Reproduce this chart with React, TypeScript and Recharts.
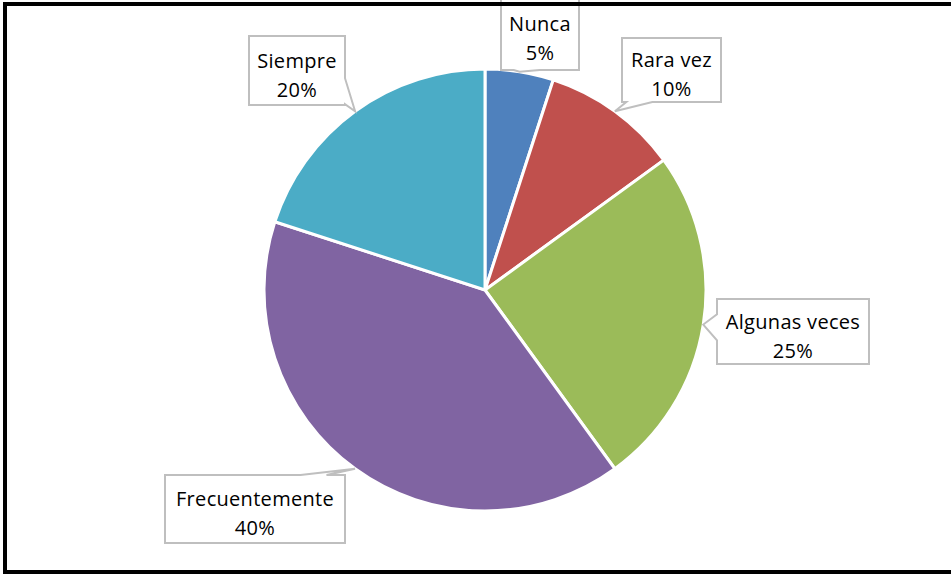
import React from 'react'
import { PieChart, Pie, Cell } from 'recharts'

// Frecuencia de respuesta
const categories = ['Nunca', 'Rara vez', 'Algunas veces', 'Frecuentemente', 'Siempre']
const values = [5, 10, 25, 40, 20]
const colors = ['#4F81BD', '#C0504D', '#9BBB59', '#8064A2', '#4BACC6']

// callout boxes, relative to the pie centre (layout only)
const calloutBoxes = [
  { dx: 16, dy: -292, w: 78, h: 72 },
  { dx: 137, dy: -252, w: 99, h: 64 },
  { dx: 232, dy: 9, w: 152, h: 65 },
  { dx: -320, dy: 185, w: 180, h: 68 },
  { dx: -236, dy: -254, w: 96, h: 69 },
]

const chartData = categories.map((name, i) => ({ name, value: values[i] }))

const RAD = Math.PI / 180

function calloutPath(x: number, y: number, w: number, h: number, tx: number, ty: number) {
  const cxB = x + w / 2
  const cyB = y + h / 2
  const nx = (tx - cxB) / (w / 2)
  const ny = (ty - cyB) / (h / 2)
  const clamp = (v: number, a: number, b: number) => Math.max(a, Math.min(b, v))
  const half = 13
  if (Math.abs(nx) <= 1 && Math.abs(ny) <= 1) {
    return `M${x},${y}H${x + w}V${y + h}H${x}Z`
  }
  if (Math.abs(ny) >= Math.abs(nx)) {
    const c = clamp(cxB + 0.65 * (clamp(tx, x, x + w) - cxB), x + half, x + w - half)
    if (ny > 0) {
      return `M${x},${y}H${x + w}V${y + h}H${c + half}L${tx},${ty}L${c - half},${y + h}H${x}Z`
    }
    return `M${x},${y}H${c - half}L${tx},${ty}L${c + half},${y}H${x + w}V${y + h}H${x}Z`
  }
  const c = clamp(cyB + 0.6 * (clamp(ty, y, y + h) - cyB), y + half, y + h - half)
  if (nx < 0) {
    return `M${x},${y}H${x + w}V${y + h}H${x}V${c + half}L${tx},${ty}L${x},${c - half}Z`
  }
  return `M${x},${y}H${x + w}V${c - half}L${tx},${ty}L${x + w},${c + half}V${y + h}H${x}Z`
}

const renderCallout = (props: any) => {
  const { cx, cy, midAngle, outerRadius, index, name, percent } = props
  const box = calloutBoxes[index]
  const tx = cx + outerRadius * Math.cos(-midAngle * RAD)
  const ty = cy + outerRadius * Math.sin(-midAngle * RAD)
  const x = cx + box.dx
  const y = cy + box.dy
  const mx = x + box.w / 2
  const my = y + box.h / 2
  return (
    <g key={`callout-${index}`}>
      <path
        d={calloutPath(x, y, box.w, box.h, tx, ty)}
        fill="#ffffff"
        stroke="#BFBFBF"
        strokeWidth={2}
      />
      <text
        x={mx}
        textAnchor="middle"
        fill="#000000"
        style={{ fontFamily: '"Open Sans", sans-serif', fontSize: 20, letterSpacing: 0.3 }}
      >
        <tspan x={mx} y={my - 3}>{name}</tspan>
        <tspan x={mx} y={my + 26}>{`${Math.round(percent * 100)}%`}</tspan>
      </text>
    </g>
  )
}

export default function App() {
  return (
    <div style={{ position: 'absolute', left: 0, top: 0, width: 951, height: 574, overflow: 'hidden', background: '#fff' }}>
      <PieChart width={951} height={574} margin={{ top: 0, right: 0, bottom: 0, left: 0 }}>
        <Pie
          data={chartData}
          dataKey="value"
          nameKey="name"
          cx={485}
          cy={290}
          outerRadius={221}
          startAngle={90}
          endAngle={-270}
          stroke="#ffffff"
          strokeWidth={3}
          label={renderCallout}
          labelLine={false}
          isAnimationActive={false}
        >
          {chartData.map((entry, index) => (
            <Cell key={`cell-${index}`} fill={colors[index]} />
          ))}
        </Pie>
      </PieChart>
      <div
        style={{
          position: 'absolute',
          left: 3,
          top: 2,
          width: 960,
          height: 572,
          boxSizing: 'border-box',
          border: '4px solid #000',
          pointerEvents: 'none',
        }}
      />
    </div>
  )
}
